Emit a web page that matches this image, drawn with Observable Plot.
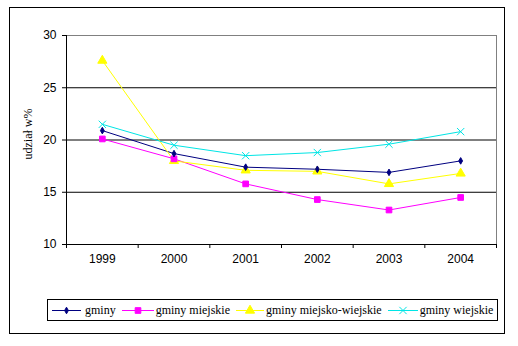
<!DOCTYPE html>
<html>
<head>
<meta charset="utf-8">
<script src="https://cdn.jsdelivr.net/npm/d3@7"></script>
<script src="https://cdn.jsdelivr.net/npm/@observablehq/plot@0.6"></script>
<style>
  html, body { margin: 0; padding: 0; background: #fff; }
  #wrap { position: relative; width: 518px; height: 346px; overflow: hidden; background: #fff; }
  #outer { position: absolute; left: 9px; top: 7px; width: 494px; height: 325px; border: 1px solid #000; pointer-events: none; }
  #legend { position: absolute; left: 47px; top: 299px; width: 449px; height: 20px; border: 1px solid #000;
    font-family: "Liberation Serif", "Times New Roman", serif; font-size: 12px; color: #000;
    display: flex; align-items: center; white-space: nowrap; }
  #legend .item { display: flex; align-items: center; }
  #legend svg { display: block; }
  #ylabel { position: absolute; left: 28px; top: 134px; transform: translate(-50%, -50%) rotate(-90deg);
    font-family: "Liberation Serif", "Times New Roman", serif; font-size: 12px; white-space: nowrap; }
  #chart { position: absolute; left: 0; top: 0; }
</style>
</head>
<body>
<div id="wrap">
  <div id="chart"></div>
  <div id="outer"></div>
  <div id="ylabel">udział w%</div>
  <div id="legend"></div>
</div>
<script>
const years = [1999, 2000, 2001, 2002, 2003, 2004];
const seriesNames = ["gminy", "gminy miejskie", "gminy miejsko-wiejskie", "gminy wiejskie"];
const gminy = [20.9, 18.7, 17.4, 17.2, 16.9, 18.0];
const gminyMiejskie = [20.1, 18.2, 15.8, 14.3, 13.3, 14.5];
const gminyMiejskoWiejskie = [27.6, 18.0, 17.1, 17.0, 15.8, 16.8];
const gminyWiejskie = [21.5, 19.5, 18.5, 18.8, 19.6, 20.8];
const yTicks = [10, 15, 20, 25, 30];
const colors = ["#000080", "#FF00FF", "#FFFF00", "#00E5E5"];
const symbols = ["diamond", "square", "triangle", "times"];
const markerR = [2.0, 3.2, 3.4, 3.4];

const seriesValues = [gminy, gminyMiejskie, gminyMiejskoWiejskie, gminyWiejskie];
const data = [];
seriesNames.forEach((s, i) => years.forEach((y, j) => data.push({series: s, year: y, value: seriesValues[i][j]})));

const bounds = [years[0] - 0.5, ...years.map(y => y + 0.5)];
const xMin = bounds[0], xMax = bounds[bounds.length - 1];

const chart = Plot.plot({
  width: 518,
  height: 346,
  marginLeft: 66,
  marginRight: 22,
  marginTop: 35,
  marginBottom: 102,
  style: {background: "transparent", fontFamily: "'Liberation Sans', Arial, sans-serif", fontSize: "12px", color: "#000"},
  x: {type: "linear", domain: [xMin, xMax]},
  y: {domain: [10, 30]},
  r: {type: "identity"},
  color: {domain: seriesNames, range: colors},
  symbol: {domain: seriesNames, range: symbols},
  marks: [
    Plot.ruleY([15, 20, 25], {stroke: "#000", strokeWidth: 1}),
    Plot.ruleY([30], {stroke: "#808080", strokeWidth: 1}),
    Plot.ruleX([xMax], {stroke: "#808080", strokeWidth: 1}),
    Plot.ruleY([10], {stroke: "#000", strokeWidth: 1}),
    Plot.ruleX([xMin], {stroke: "#000", strokeWidth: 1}),
    Plot.axisY({ticks: yTicks, tickSize: 4, tickPadding: 6, tickFormat: d => String(d), stroke: "#000", label: null}),
    Plot.axisX({ticks: bounds, tickSize: 4, tickFormat: () => "", stroke: "#000", label: null}),
    Plot.axisX({ticks: years, tickSize: 0, tickPadding: 10, tickFormat: d => String(d), label: null}),
    Plot.line(data, {x: "year", y: "value", z: "series", stroke: "series", strokeWidth: 1}),
    Plot.dot(data, {x: "year", y: "value", symbol: "series", fill: "series", stroke: "series", strokeWidth: 1,
      r: d => markerR[seriesNames.indexOf(d.series)]})
  ]
});
document.getElementById("chart").appendChild(chart);

// legend
const legend = document.getElementById("legend");
const symGen = {
  diamond: d3.symbolDiamond, square: d3.symbolSquare, triangle: d3.symbolTriangle, times: d3.symbolTimes
};
const swatchW = [29, 32, 28, 30];
const gaps = [4, 2, 2, 2];
seriesNames.forEach((s, i) => {
  const item = document.createElement("div");
  item.className = "item";
  item.style.marginLeft = (i === 0 ? 4 : 6) + "px";
  const w = swatchW[i];
  const svg = d3.create("svg").attr("width", w).attr("height", 12);
  svg.append("line").attr("x1", 0).attr("x2", w).attr("y1", 6.5).attr("y2", 6.5).attr("stroke", colors[i]).attr("stroke-width", 1);
  const size = Math.PI * markerR[i] * markerR[i];
  svg.append("path").attr("d", d3.symbol(symGen[symbols[i]], size)()).attr("transform", `translate(${w / 2},6.5)`)
    .attr("fill", symbols[i] === "times" ? "none" : colors[i]).attr("stroke", colors[i]);
  item.appendChild(svg.node());
  const t = document.createElement("span");
  t.textContent = s;
  t.style.marginLeft = gaps[i] + "px";
  item.appendChild(t);
  legend.appendChild(item);
});
</script>
</body>
</html>
